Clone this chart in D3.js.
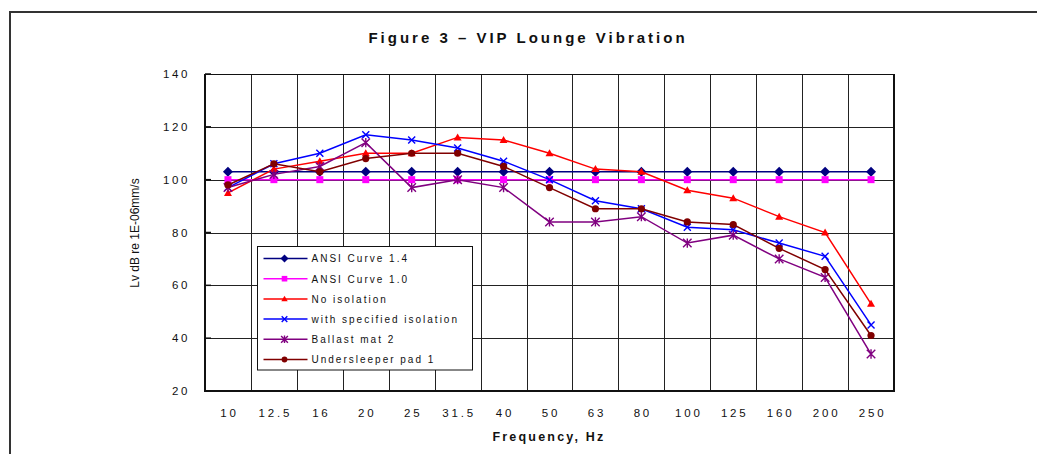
<!DOCTYPE html>
<html>
<head>
<meta charset="utf-8">
<script src="https://cdn.jsdelivr.net/npm/d3@7"></script>
<style>
  body { margin: 0; background: #fff; }
  svg text { font-family: "Liberation Sans", Arial, sans-serif; fill: #111; }
</style>
</head>
<body>
<div id="chart"></div>
<script>
// Data
const frequencies = ["10", "12.5", "16", "20", "25", "31.5", "40", "50", "63", "80", "100", "125", "160", "200", "250"];
const ansi14 = [103, 103, 103, 103, 103, 103, 103, 103, 103, 103, 103, 103, 103, 103, 103];
const ansi10 = [100, 100, 100, 100, 100, 100, 100, 100, 100, 100, 100, 100, 100, 100, 100];
const noIsolation = [95, 104, 107, 110, 110, 116, 115, 110, 104, 103, 96, 93, 86, 80, 53];
const specifiedIsolation = [97, 106, 110, 117, 115, 112, 107, 100, 92, 89, 82, 81, 76, 71, 45];
const ballastMat2 = [97, 102, 105, 114, 97, 100, 97, 84, 84, 86, 76, 79, 70, 63, 34];
const undersleeperPad1 = [98, 106, 103, 108, 110, 110, 105, 97, 89, 89, 84, 83, 74, 66, 41];
const yTicks = [20, 40, 60, 80, 100, 120, 140];

const series = [
  { name: "ANSI Curve 1.4", values: ansi14, color: "#000080", marker: "diamond" },
  { name: "ANSI Curve 1.0", values: ansi10, color: "#ff00ff", marker: "square" },
  { name: "No isolation", values: noIsolation, color: "#ff0000", marker: "triangle" },
  { name: "with specified isolation", values: specifiedIsolation, color: "#0000ff", marker: "cross" },
  { name: "Ballast mat 2", values: ballastMat2, color: "#800080", marker: "star" },
  { name: "Undersleeper pad 1", values: undersleeperPad1, color: "#800000", marker: "circle" }
];

const width = 1037, height = 454;
const plot = { left: 205, right: 894, top: 74, bottom: 391 };

const svg = d3.select("#chart").append("svg").attr("width", width).attr("height", height);

// outer frame (runs off the right and bottom edge)
svg.append("rect")
  .attr("x", 10).attr("y", 12).attr("width", 1100).attr("height", 500)
  .attr("fill", "none").attr("stroke", "#333").attr("stroke-width", 2);

const x = d3.scaleBand().domain(frequencies).range([plot.left, plot.right]).padding(0);
const y = d3.scaleLinear().domain([20, 140]).range([plot.bottom, plot.top]);
const cx = (d) => x(d) + x.bandwidth() / 2;

// gridlines
svg.append("g").selectAll("line").data(yTicks).enter().append("line")
  .attr("x1", plot.left).attr("x2", plot.right)
  .attr("y1", (d) => Math.round(y(d)) + 0.5).attr("y2", (d) => Math.round(y(d)) + 0.5)
  .attr("stroke", "#222").attr("stroke-width", 1);

svg.append("g").selectAll("line").data(frequencies.slice(1)).enter().append("line")
  .attr("x1", (d) => Math.round(x(d)) + 0.5).attr("x2", (d) => Math.round(x(d)) + 0.5)
  .attr("y1", plot.top).attr("y2", plot.bottom)
  .attr("stroke", "#222").attr("stroke-width", 1);

// plot borders
svg.append("line").attr("x1", plot.left).attr("x2", plot.right).attr("y1", plot.top + 0.5).attr("y2", plot.top + 0.5)
  .attr("stroke", "#111").attr("stroke-width", 1);
svg.append("line").attr("x1", plot.right).attr("x2", plot.right).attr("y1", plot.top).attr("y2", plot.bottom)
  .attr("stroke", "#111").attr("stroke-width", 2);
svg.append("line").attr("x1", plot.left).attr("x2", plot.left).attr("y1", plot.top).attr("y2", plot.bottom + 1)
  .attr("stroke", "#111").attr("stroke-width", 2);
svg.append("line").attr("x1", plot.left - 1).attr("x2", plot.right + 1).attr("y1", plot.bottom).attr("y2", plot.bottom)
  .attr("stroke", "#111").attr("stroke-width", 2);

// small ticks inside the left axis
svg.append("g").selectAll("line").data(yTicks).enter().append("line")
  .attr("x1", plot.left).attr("x2", plot.left + 6)
  .attr("y1", (d) => y(d)).attr("y2", (d) => y(d))
  .attr("stroke", "#111").attr("stroke-width", 1.5);

// tick labels
svg.append("g").selectAll("text").data(yTicks).enter().append("text")
  .attr("x", 190).attr("y", (d) => y(d) + 4)
  .attr("text-anchor", "end")
  .attr("font-size", "11.5px").attr("letter-spacing", "2.6px")
  .text((d) => d);

svg.append("g").selectAll("text").data(frequencies).enter().append("text")
  .attr("x", (d) => cx(d) + 1.5).attr("y", 417)
  .attr("text-anchor", "middle")
  .attr("font-size", "11.5px").attr("letter-spacing", "2.8px")
  .text((d) => d);

// titles
svg.append("text")
  .attr("x", 528).attr("y", 43)
  .attr("text-anchor", "middle")
  .attr("font-size", "15px").attr("font-weight", "bold").attr("letter-spacing", "3px")
  .text("Figure 3 – VIP Lounge Vibration");

svg.append("text")
  .attr("x", 549).attr("y", 441)
  .attr("text-anchor", "middle")
  .attr("font-size", "12.5px").attr("font-weight", "bold").attr("letter-spacing", "2.2px")
  .text("Frequency, Hz");

svg.append("text")
  .attr("transform", "translate(139, 233) rotate(-90)")
  .attr("text-anchor", "middle")
  .attr("font-size", "12px")
  .text("Lv dB re 1E-06mm/s");

// marker drawing
function drawMarker(g, type, color, s) {
  if (type === "diamond") {
    g.append("path").attr("d", `M0,${-s}L${s},0L0,${s}L${-s},0Z`).attr("fill", color);
  } else if (type === "square") {
    g.append("rect").attr("x", -s * 0.7).attr("y", -s * 0.7).attr("width", s * 1.4).attr("height", s * 1.4).attr("fill", color);
  } else if (type === "triangle") {
    g.append("path").attr("d", `M0,${-s * 0.8}L${s * 0.8},${s * 0.6}L${-s * 0.8},${s * 0.6}Z`).attr("fill", color);
  } else if (type === "circle") {
    g.append("circle").attr("r", s * 0.72).attr("fill", color);
  } else if (type === "cross") {
    const r = s * 0.7;
    g.append("path").attr("d", `M${-r},${-r}L${r},${r}M${-r},${r}L${r},${-r}`)
      .attr("stroke", color).attr("stroke-width", 1.4).attr("fill", "none");
  } else if (type === "star") {
    const r = s * 0.85;
    g.append("path").attr("d", `M${-r},${-r}L${r},${r}M${-r},${r}L${r},${-r}M0,${-r * 1.1}L0,${r * 1.1}`)
      .attr("stroke", color).attr("stroke-width", 1.4).attr("fill", "none");
  }
}

// series
const line = d3.line().x((d, i) => cx(frequencies[i])).y((d) => y(d));

series.forEach((s) => {
  const g = svg.append("g");
  g.append("path")
    .datum(s.values)
    .attr("d", line)
    .attr("fill", "none")
    .attr("stroke", s.color)
    .attr("stroke-width", 1.5);

  s.values.forEach((v, i) => {
    const m = g.append("g").attr("transform", `translate(${cx(frequencies[i])}, ${y(v)})`);
    drawMarker(m, s.marker, s.color, 5);
  });
});

// legend
const legend = svg.append("g").attr("transform", "translate(257.5, 246.5)");
legend.append("rect")
  .attr("width", 215).attr("height", 123.5)
  .attr("fill", "#fff").attr("stroke", "#111").attr("stroke-width", 1);

series.forEach((s, i) => {
  const row = legend.append("g").attr("transform", `translate(0, ${12 + i * 20.2})`);
  row.append("line").attr("x1", 6).attr("x2", 50).attr("y1", 0).attr("y2", 0)
    .attr("stroke", s.color).attr("stroke-width", 1.5);
  const m = row.append("g").attr("transform", "translate(27, 0)");
  drawMarker(m, s.marker, s.color, 4);
  row.append("text")
    .attr("x", 54).attr("y", 3.8)
    .attr("font-size", "10px").attr("letter-spacing", "2px")
    .text(s.name);
});
</script>
</body>
</html>
